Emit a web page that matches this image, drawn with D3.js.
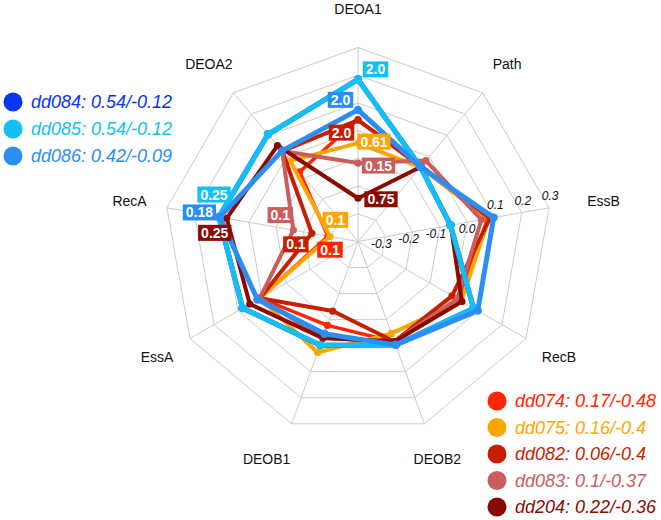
<!DOCTYPE html>
<html>
<head>
<meta charset="utf-8">
<script src="https://cdn.jsdelivr.net/npm/d3@7"></script>
<style>
  body { margin: 0; background: #fff; }
  text { font-family: "Liberation Sans", Arial, Helvetica, sans-serif; }
</style>
</head>
<body>
<div id="chart"></div>
<script>
// Ejes del radar
var axes = ["DEOA1", "Path", "EssB", "RecB", "DEOB2", "DEOB1", "EssA", "RecA", "DEOA2"];
var ticks = [-0.3, -0.2, -0.1, 0.0, 0.1, 0.2, 0.3];
var tickLabels = ["-0.3", "-0.2", "-0.1", "0.0", "0.1", "0.2", "0.3"];

// Series (orden de dibujo)
var names = ["dd074", "dd075", "dd082", "dd083", "dd204", "dd084", "dd085", "dd086"];
var legendText = ["0.17/-0.48", "0.16/-0.4", "0.06/-0.4", "0.1/-0.37", "0.22/-0.36",
                  "0.54/-0.12", "0.54/-0.12", "0.42/-0.09"];

//            DEOA1   Path    EssB    RecB    DEOB2   DEOB1   EssA   RecA    DEOA2
var dd074 = [ 0.040, -0.050,  0.075,  0.020, -0.015, -0.078, 0.009, -0.290, -0.072];
var dd075 = [-0.045, -0.050,  0.080,  0.030, -0.047,  0.026, 0.009, -0.297, -0.020];
var dd082 = [ 0.038, -0.045,  0.083, -0.008, -0.016, -0.133, 0.009, -0.231,  0.025];
var dd083 = [-0.117, -0.019,  0.052,  0.014, -0.016, -0.029, 0.009, -0.163,  0.026];
var dd204 = [-0.244, -0.049, -0.060,  0.033, -0.016, -0.029, 0.051,  0.081,  0.052];
var dd084 = [ 0.185, -0.049, -0.061,  0.081, -0.003, -0.002, 0.081,  0.110,  0.105];
var dd085 = [ 0.185, -0.049, -0.061,  0.081, -0.003, -0.002, 0.081,  0.110,  0.105];
var dd086 = [ 0.075, -0.049,  0.097,  0.099, -0.003, -0.046, 0.019,  0.106,  0.027];

// Etiquetas en los ejes DEOA1 y RecA (mismo orden que names)
var labelsDEOA1 = ["", "0.61", "2.0", "0.15", "0.75", "", "2.0", "2.0"];
var labelsRecA  = ["0.1", "0.1", "0.1", "0.1", "0.25", "", "0.25", "0.18"];

var seriesValues = [dd074, dd075, dd082, dd083, dd204, dd084, dd085, dd086];

var colors = {
  dd074: "#ff2500", dd075: "#ffa500", dd082: "#c81e00", dd083: "#cd5c5c",
  dd204: "#8b0a00", dd084: "#0a35f5", dd085: "#14bff6", dd086: "#2a8ef3"
};
var widths = {
  dd074: 3.5, dd075: 4, dd082: 4, dd083: 4, dd204: 4, dd084: 5, dd085: 5, dd086: 5
};

// Desplazamiento de las cajas de etiquetas respecto al vertice
var offDEOA1 = { dd075: [16, -1.5], dd082: [-16.5, 12.5], dd083: [20.5, 2.5], dd204: [23, 1],
                 dd085: [17.5, -10], dd086: [-17.5, -10] };
var offRecA = { dd074: [2, 13.5], dd075: [5.5, -16.7], dd082: [-16, 11], dd083: [-13, -15],
                dd204: [-12, 14.5], dd085: [-4.8, -22.4], dd086: [-20.5, -4.7] };

// Ajuste horizontal de algunos nombres de eje
var labelShift = { EssB: 17, DEOB1: -12 };

var width = 661, height = 520;
var cx = 358, cy = 241.5, R = 194;

var svg = d3.select("#chart").append("svg")
  .attr("width", width)
  .attr("height", height);

svg.append("rect").attr("width", width).attr("height", height).attr("fill", "#fff");

var g = svg.append("g").attr("transform", "translate(" + cx + "," + cy + ")");

var r = d3.scaleLinear().domain([-0.4, 0.3]).range([0, R]);
var angle = d3.scaleLinear().domain([0, axes.length]).range([0, 2 * Math.PI]);

function pt(i, v) {
  var a = angle(i), rr = r(v);
  return [rr * Math.sin(a), -rr * Math.cos(a)];
}

// Rejilla
var ringLine = d3.lineRadial()
  .angle(function(d, i) { return angle(i); })
  .radius(function(d) { return r(d); })
  .curve(d3.curveLinearClosed);

g.selectAll(".ring")
  .data(ticks)
  .enter()
  .append("path")
  .attr("d", function(t) { return ringLine(axes.map(function() { return t; })); })
  .attr("fill", "none")
  .attr("stroke", "#cccccc")
  .attr("stroke-width", 1);

g.selectAll(".spoke")
  .data(axes)
  .enter()
  .append("line")
  .attr("x1", 0).attr("y1", 0)
  .attr("x2", function(d, i) { return pt(i, 0.3)[0]; })
  .attr("y2", function(d, i) { return pt(i, 0.3)[1]; })
  .attr("stroke", "#cccccc")
  .attr("stroke-width", 1);

// Nombres de los ejes
g.selectAll(".axis-label")
  .data(axes)
  .enter()
  .append("text")
  .attr("x", function(d, i) { return (R + 38) * Math.sin(angle(i)) + (labelShift[d] || 0); })
  .attr("y", function(d, i) { return -(R + 38) * Math.cos(angle(i)); })
  .attr("dy", "0.35em")
  .attr("text-anchor", "middle")
  .attr("font-size", 14)
  .attr("fill", "#111")
  .text(function(d) { return d; });

// Marcas del eje EssB
g.selectAll(".tick")
  .data(ticks)
  .enter()
  .append("text")
  .attr("x", function(t) { return pt(2, t)[0] + (t < 0 ? -4 : (t > 0 ? 1 : 0)); })
  .attr("y", function(t) { return pt(2, t)[1] + (t < 0 ? 11 : (t > 0 ? -8 : 11)); })
  .attr("text-anchor", "middle")
  .attr("font-size", 12)
  .attr("font-style", "italic")
  .attr("fill", "#111")
  .text(function(t, i) { return tickLabels[i]; });

// Lineas de las series
var seriesLine = d3.lineRadial()
  .angle(function(d, i) { return angle(i); })
  .radius(function(d) { return r(d); })
  .curve(d3.curveLinearClosed);

names.forEach(function(name, s) {
  var vals = seriesValues[s];
  var sg = g.append("g");
  sg.append("path")
    .attr("d", seriesLine(vals))
    .attr("fill", "none")
    .attr("stroke", colors[name])
    .attr("stroke-width", widths[name])
    .attr("stroke-linejoin", "round");
  sg.selectAll("circle")
    .data(vals)
    .enter()
    .append("circle")
    .attr("cx", function(d, i) { return pt(i, d)[0]; })
    .attr("cy", function(d, i) { return pt(i, d)[1]; })
    .attr("r", widths[name] >= 5 ? 4.2 : 3.6)
    .attr("fill", colors[name]);
});

// Cajas de etiquetas
function addLabel(axisIndex, s, txt, off) {
  if (!txt) return;
  var name = names[s];
  var p = pt(axisIndex, seriesValues[s][axisIndex]);
  var x = p[0] + off[0], y = p[1] + off[1];
  var lg = g.append("g").attr("transform", "translate(" + x + "," + y + ")");
  var t = lg.append("text")
    .attr("text-anchor", "middle")
    .attr("dy", "0.36em")
    .attr("font-size", 14)
    .attr("font-weight", "bold")
    .attr("fill", "#fff")
    .text(txt);
  var w = t.node().getComputedTextLength() + 6;
  lg.insert("rect", "text")
    .attr("x", -w / 2).attr("y", -8)
    .attr("width", w).attr("height", 16)
    .attr("fill", colors[name]);
}

names.forEach(function(name, s) {
  addLabel(0, s, labelsDEOA1[s], offDEOA1[name] || [0, 0]);
  addLabel(7, s, labelsRecA[s], offRecA[name] || [0, 0]);
});

// Leyendas
var topNames = ["dd084", "dd085", "dd086"];
var bottomNames = ["dd074", "dd075", "dd082", "dd083", "dd204"];

function legend(list, x0, y0, step) {
  var lg = svg.append("g");
  var items = lg.selectAll("g")
    .data(list)
    .enter()
    .append("g")
    .attr("transform", function(d, i) { return "translate(" + x0 + "," + (y0 + i * step) + ")"; });
  items.append("circle")
    .attr("r", 9.5)
    .attr("fill", function(d) { return colors[d]; });
  items.append("text")
    .attr("x", 18)
    .attr("dy", "0.36em")
    .attr("font-size", 18)
    .attr("font-style", "italic")
    .attr("fill", function(d) { return colors[d]; })
    .text(function(d) { return d + ": " + legendText[names.indexOf(d)]; });
}

legend(topNames, 13, 102, 27);
legend(bottomNames, 497, 401, 26.5);
</script>
</body>
</html>
